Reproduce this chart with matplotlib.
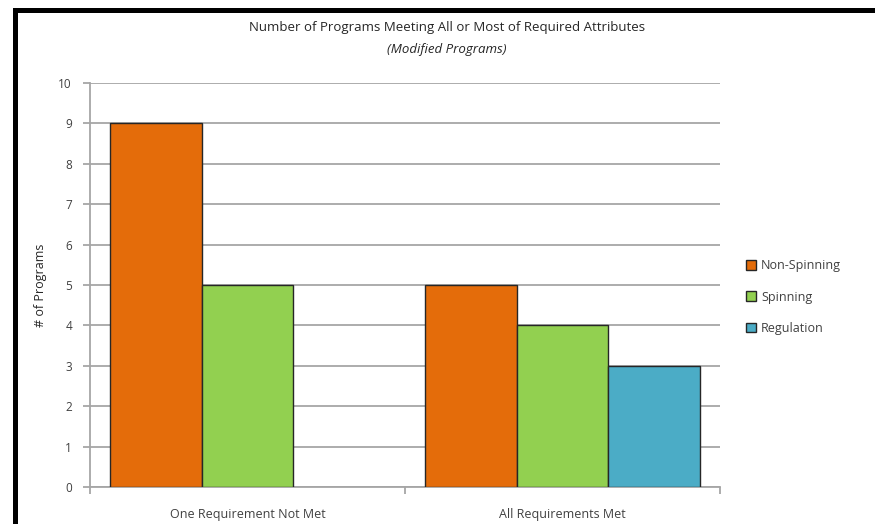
import matplotlib.pyplot as plt
import numpy as np
from matplotlib.patches import Rectangle, Patch

categories = ["One Requirement Not Met", "All Requirements Met"]
series_names = ["Non-Spinning", "Spinning", "Regulation"]
non_spinning = [9, 5]
spinning = [5, 4]
regulation = [0, 3]
colors = ["#E46C0A", "#92D050", "#4BACC6"]

plt.rcParams['font.family'] = ['Open Sans', 'DejaVu Sans']
text_color = "#404040"
grid_color = "#a6a6a6"
edge_color = "#262626"

fig = plt.figure(figsize=(8.75, 5.24), dpi=100)
ax = fig.add_axes([90 / 875, 1 - 487 / 524, 630 / 875, 404 / 524])

x = np.arange(len(categories))
width = 0.29
for i, vals in enumerate([non_spinning, spinning, regulation]):
    bars = ax.bar(x + (i - 1) * width, vals, width, color=colors[i], edgecolor=edge_color,
                  linewidth=1.0, zorder=3)
    # empty bars are not drawn at all
    for b, v in zip(bars, vals):
        if v == 0:
            b.set_visible(False)

ax.set_xlim(-0.5, 1.5)
ax.set_ylim(0, 10)
ax.set_yticks(range(0, 11))
ax.yaxis.grid(True, color=grid_color, linewidth=1.3, zorder=0)
ax.set_xticks([-0.5, 0.5, 1.5])
ax.set_xticklabels([])
ax.set_xticks(x, minor=True)
ax.set_xticklabels(categories, minor=True)
ax.tick_params(axis='x', which='minor', length=0, pad=15, labelsize=9, labelcolor=text_color)
ax.tick_params(axis='x', which='major', length=5, color=grid_color, width=1.3)
ax.tick_params(axis='y', length=5, color=grid_color, width=1.3, pad=8,
               labelsize=8.5, labelcolor=text_color)
for s in ['top', 'right']:
    ax.spines[s].set_visible(False)
for s in ['left', 'bottom']:
    ax.spines[s].set_color(grid_color)
    ax.spines[s].set_linewidth(1.3)

ax.set_ylabel("# of Programs", fontsize=9, color="#262626", labelpad=8)

fig.text(447 / 875, 1 - 27 / 524, "Number of Programs Meeting All or Most of Required Attributes",
         ha='center', va='center', fontsize=9.5, color="#262626")
fig.text(447 / 875, 1 - 50 / 524, "(Modified Programs)", ha='center', va='center',
         fontsize=9.5, style='italic', color="#262626")

handles = [Patch(facecolor=c, edgecolor=edge_color, linewidth=1.0) for c in colors]
leg = ax.legend(handles, series_names, loc='center left', frameon=False, fontsize=9,
                handlelength=0.8, handleheight=0.8, handletextpad=0.4, labelspacing=1.45)
leg.set_bbox_to_anchor((735 / 875, 1 - 297 / 524), transform=fig.transFigure)
for t in leg.get_texts():
    t.set_color(text_color)

# black frame around the image (left and top edges)
fig.patches.append(Rectangle((13 / 875, 0), 5 / 875, 1 - 8 / 524, transform=fig.transFigure,
                             facecolor='black', edgecolor='none'))
fig.patches.append(Rectangle((13 / 875, 1 - 13 / 524), 1, 5 / 524, transform=fig.transFigure,
                             facecolor='black', edgecolor='none'))

fig.savefig("out.png", dpi=100)
